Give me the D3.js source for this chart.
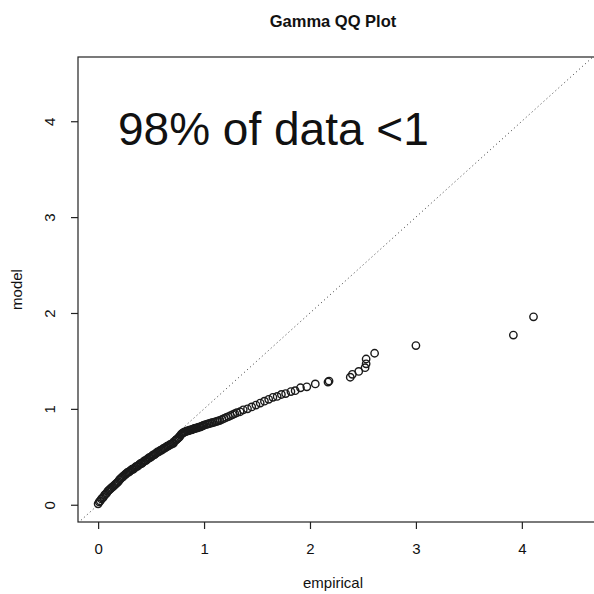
<!DOCTYPE html>
<html>
<head>
<meta charset="utf-8">
<script src="https://cdnjs.cloudflare.com/ajax/libs/d3/7.8.5/d3.min.js"></script>
<style>
  body { margin: 0; background: #fff; }
  text { font-family: "Liberation Sans", Arial, sans-serif; fill: #111; }
</style>
</head>
<body>
<div id="chart"></div>
<script>
//Empirical quantiles (x)
var empirical = [
  0.00,0.01,0.02,0.03,0.04,0.05,0.06,0.07,0.08,0.09,
  0.10,0.11,0.12,0.13,0.14,0.15,0.16,0.17,0.18,0.19,
  0.20,0.21,0.22,0.23,0.24,0.25,0.26,0.27,0.28,0.29,
  0.30,0.31,0.32,0.33,0.34,0.35,0.36,0.37,0.38,0.39,
  0.40,0.41,0.42,0.43,0.44,0.45,0.46,0.47,0.48,0.49,
  0.50,0.51,0.52,0.53,0.54,0.55,0.56,0.57,0.58,0.59,
  0.60,0.61,0.62,0.63,0.64,0.65,0.66,0.67,0.68,0.69,
  0.70,0.71,0.72,0.73,0.74,0.75,0.76,0.77,0.78,0.79,
  0.80,0.81,0.82,0.83,0.84,0.85,0.86,0.87,0.88,0.89,
  0.90,0.91,0.92,0.93,0.94,0.95,0.96,0.97,0.98,0.99,
  1.00,1.015,1.03,1.045,1.06,1.075,1.09,1.105,1.12,1.135,
  1.15,1.17,1.19,1.21,1.23,1.25,1.27,1.29,1.31,1.34,
  1.37,1.41,1.45,1.49,1.53,1.57,1.61,1.65,1.69,1.73,
  1.77,1.82,1.86,1.91,1.97,2.05,2.17,2.18,2.38,2.40,
  2.46,2.52,2.53,2.53,2.61,3.00,3.92,4.11
];
//Model (gamma) quantiles (y)
var model = [
  0.01,0.03,0.04,0.06,0.07,0.08,0.10,0.11,0.12,0.14,
  0.15,0.16,0.17,0.18,0.19,0.20,0.21,0.22,0.23,0.24,
  0.26,0.27,0.28,0.29,0.30,0.31,0.32,0.33,0.34,0.34,
  0.35,0.36,0.37,0.37,0.38,0.39,0.40,0.40,0.41,0.42,
  0.43,0.43,0.44,0.45,0.46,0.46,0.47,0.48,0.49,0.49,
  0.50,0.51,0.52,0.52,0.53,0.54,0.55,0.55,0.56,0.57,
  0.57,0.58,0.59,0.59,0.60,0.61,0.61,0.62,0.63,0.63,
  0.64,0.64,0.66,0.67,0.68,0.69,0.70,0.71,0.73,0.74,
  0.75,0.755,0.76,0.765,0.77,0.77,0.775,0.78,0.78,0.785,
  0.79,0.795,0.80,0.80,0.805,0.81,0.81,0.815,0.82,0.825,
  0.83,0.835,0.84,0.845,0.85,0.855,0.86,0.865,0.87,0.875,
  0.88,0.89,0.90,0.91,0.92,0.93,0.94,0.95,0.96,0.97,
  0.99,1.00,1.02,1.04,1.06,1.08,1.10,1.12,1.13,1.15,
  1.16,1.18,1.19,1.22,1.23,1.26,1.28,1.29,1.33,1.36,
  1.39,1.43,1.47,1.52,1.58,1.66,1.77,1.96
];
//Tick values for both axes
var tickValues = [0, 1, 2, 3, 4];
//Texts
var title = "Gamma QQ Plot";
var xLabel = "empirical";
var yLabel = "model";
var note = "98% of data <1";

function drawQQ(){
    //Size of the page
    var w = 594;
    var h = 594;
    //Plot box edges (right side runs off the page)
    var left = 78, top = 57, right = 596, bottom = 522;

    var svg = d3.select("#chart")
            .append("svg")
            .attr("width", w)
            .attr("height", h);

    //Scales: both axes share the same limits
    var x = d3.scaleLinear().domain([-0.19, 4.70]).range([left, right]);
    var y = d3.scaleLinear().domain([-0.18, 4.67]).range([bottom, top]);

    //Clip to the plot box
    svg.append("clipPath").attr("id", "clip")
       .append("rect")
       .attr("x", left).attr("y", top)
       .attr("width", right - left).attr("height", bottom - top);

    //Dotted identity line
    svg.append("line")
       .attr("clip-path", "url(#clip)")
       .attr("x1", x(-0.19)).attr("y1", y(-0.19))
       .attr("x2", x(4.70)).attr("y2", y(4.70))
       .attr("stroke", "#333")
       .attr("stroke-width", 1)
       .attr("stroke-dasharray", "1,3");

    //Points as open circles
    svg.append("g")
       .attr("clip-path", "url(#clip)")
       .selectAll("circle")
       .data(empirical)
       .enter()
       .append("circle")
       .attr("cx", function(d){ return x(d); })
       .attr("cy", function(d, i){ return y(model[i]); })
       .attr("r", 3.7)
       .attr("fill", "none")
       .attr("stroke", "#1a1a1a")
       .attr("stroke-width", 1.4);

    //Box around the plot
    svg.append("rect")
       .attr("x", left).attr("y", top)
       .attr("width", right - left).attr("height", bottom - top)
       .attr("fill", "none")
       .attr("stroke", "#222")
       .attr("stroke-width", 1.2);

    //X axis
    var xAxis = svg.append("g")
       .attr("transform", "translate(0," + bottom + ")")
       .call(d3.axisBottom(x).tickValues(tickValues).tickFormat(d3.format("d"))
             .tickSize(7).tickPadding(14).tickSizeOuter(0));
    xAxis.select(".domain").remove();
    xAxis.selectAll("line").attr("stroke", "#222").attr("stroke-width", 1.2);
    xAxis.selectAll("text")
       .style("font-size", "15px")
       .style("font-family", "'Liberation Sans', Arial, sans-serif")
       .attr("fill", "#111");

    //Y axis, labels turned like R does
    var yAxis = svg.append("g")
       .attr("transform", "translate(" + left + ",0)")
       .call(d3.axisLeft(y).tickValues(tickValues).tickFormat(d3.format("d"))
             .tickSize(7).tickSizeOuter(0));
    yAxis.select(".domain").remove();
    yAxis.selectAll("line").attr("stroke", "#222").attr("stroke-width", 1.2);
    yAxis.selectAll("text")
       .attr("x", 0).attr("dy", "0.35em")
       .attr("transform", "translate(-28,0) rotate(-90)")
       .attr("text-anchor", "middle")
       .style("font-size", "15px")
       .style("font-family", "'Liberation Sans', Arial, sans-serif")
       .attr("fill", "#111");

    //Title
    svg.append("text")
       .attr("x", (left + right) / 2 - 4).attr("y", 27)
       .attr("text-anchor", "middle")
       .style("font-size", "16.5px")
       .style("font-weight", "bold")
       .text(title);

    //Axis titles
    svg.append("text")
       .attr("x", (left + right) / 2 - 4).attr("y", 588)
       .attr("text-anchor", "middle")
       .style("font-size", "15px")
       .text(xLabel);
    svg.append("text")
       .attr("transform", "translate(22," + ((top + bottom) / 2) + ") rotate(-90)")
       .attr("text-anchor", "middle")
       .style("font-size", "15px")
       .text(yLabel);

    //Big note in the plot
    svg.append("text")
       .attr("x", 118).attr("y", 145)
       .style("font-size", "46px")
       .style("font-family", "Arial, 'Liberation Sans', Helvetica, sans-serif")
       .attr("fill", "#000")
       .text(note);
}

window.onload = function(){
    drawQQ();
};
</script>
</body>
</html>
